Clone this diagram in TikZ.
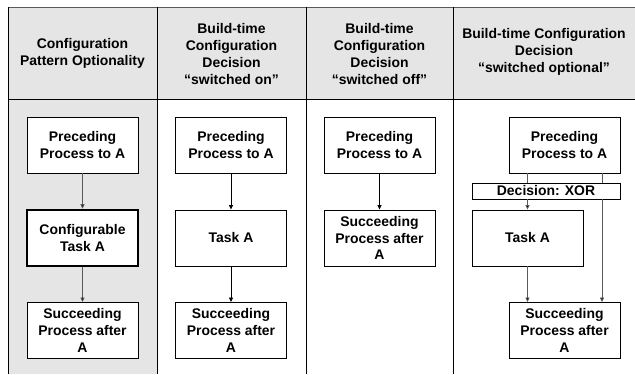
\documentclass[tikz,border=0pt]{standalone}
\usepackage{fontspec}
\setmainfont{Liberation Sans}
\usetikzlibrary{arrows.meta}
\definecolor{paneGray}{RGB}{229,229,229}
\definecolor{lineGray}{RGB}{90,90,90}
\tikzset{
  every node/.style={font=\fontsize{14}{17}\selectfont\bfseries},
  headtxt/.style={align=center, inner sep=0pt},
  proc/.style={draw=black, fill=white, line width=0.9bp, align=center,
    minimum width=111bp, minimum height=56bp, inner sep=0pt},
  cfgproc/.style={proc, line width=2.6bp},
  bar/.style={draw=black, fill=white, line width=0.9bp, align=center,
    minimum width=148bp, minimum height=16bp, inner sep=0pt},
  flow/.style={-{Triangle[width=4bp,length=4.5bp]}, line width=0.8bp},
  flowg/.style={flow, draw=lineGray, -{Triangle[width=4bp,length=4.5bp,fill=black]}},
  grid/.style={line width=0.9bp, draw=black},
}
\begin{document}
\begin{tikzpicture}[x=1bp, y=-1bp]
\useasboundingbox (0,0) rectangle (635,374);
% backgrounds
\fill[paneGray] (8,7) rectangle (635,99);
\fill[paneGray] (8,99) rectangle (157,374);
% table rules
\draw[line width=0.9bp, draw=lineGray] (8,7) -- (635,7);
\draw[grid] (8,99) -- (635,99);
\foreach \cx in {8,157,306,453} \draw[grid] (\cx,7) -- (\cx,374);
% column headings
\node[headtxt] (h1) at (82.5,53) {Configuration\\Pattern Optionality};
\node[headtxt] (h2) at (231.5,54) {Build-time\\Configuration\\Decision\\“switched on”};
\node[headtxt] (h3) at (379.5,54) {Build-time\\Configuration\\Decision\\“switched off”};
\node[headtxt] (h4) at (544,51.5) {Build-time Configuration\\Decision\\“switched optional”};
% column 1: configuration pattern
\node[proc] (p1) at (82.5,145) {Preceding\\Process to A};
\node[cfgproc] (t1) at (82.5,238) {Configurable\\Task A};
\node[proc] (s1) at (82.5,330.5) {Succeeding\\Process after\\A};
\draw[flowg] (p1) -- (t1);
\draw[flowg] (t1) -- (s1);
% column 2: switched on
\node[proc] (p2) at (231,145) {Preceding\\Process to A};
\node[proc] (t2) at (231,238) {Task A};
\node[proc] (s2) at (231,330.5) {Succeeding\\Process after\\A};
\draw[flow] (p2) -- (t2);
\draw[flow] (t2) -- (s2);
% column 3: switched off
\node[proc] (p3) at (379.5,145) {Preceding\\Process to A};
\node[proc] (s3) at (379.5,238) {Succeeding\\Process after\\A};
\draw[flow] (p3) -- (s3);
% column 4: switched optional
\node[proc] (p4) at (564.5,145) {Preceding\\Process to A};
\node[bar] (d4) at (546,191) {Decision: XOR};
\node[proc] (t4) at (527.5,238) {Task A};
\node[proc] (s4) at (564.5,330.5) {Succeeding\\Process after\\A};
\coordinate (r4) at (602,0);
\draw[line width=0.8bp, draw=lineGray] (p4.south -| t4.north) -- (d4.north -| t4.north);
\draw[flowg] (d4.south -| t4.north) -- (t4.north);
\draw[flowg] (t4.south) -- (s4.north -| t4.south);
\draw[line width=0.8bp, draw=lineGray] (p4.south -| r4) -- (d4.north -| r4);
\draw[flowg] (d4.south -| r4) -- (s4.north -| r4);
\end{tikzpicture}
\end{document}
